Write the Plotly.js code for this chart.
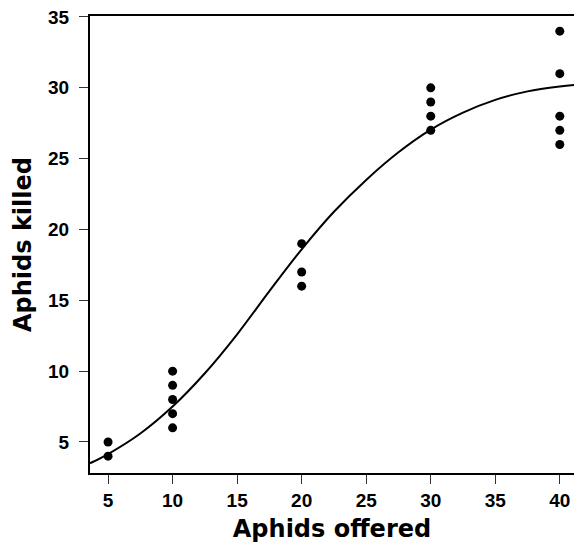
<!DOCTYPE html>
<html>
<head>
<meta charset="utf-8">
<script src="https://cdn.plot.ly/plotly-3.0.1.min.js"></script>
<style>html,body{margin:0;padding:0;background:#fff;}#chart{width:574px;height:549px;}</style>
</head>
<body>
<div id="chart"></div>
<script>
// Observed data: aphids offered vs aphids killed
var offered = [5, 5, 10, 10, 10, 10, 10, 20, 20, 20, 30, 30, 30, 30, 40, 40, 40, 40, 40];
var killed  = [5, 4, 10, 9, 8, 7, 6, 19, 17, 16, 30, 29, 28, 27, 34, 31, 28, 27, 26];

// Fitted curve, values
var curveX = [3.6, 5, 7.5, 10, 12.5, 15, 17.5, 20, 22.5, 25, 27.5, 30, 32.5, 35, 37.5, 40, 41.1];
var curveY = [3.5, 4.15, 5.6, 7.5, 9.85, 12.6, 15.65, 18.6, 21.25, 23.5, 25.45, 27.05, 28.25, 29.15, 29.75, 30.1, 30.2];

var xTicks = [5, 10, 15, 20, 25, 30, 35, 40];
var yTicks = [5, 10, 15, 20, 25, 30, 35];

var tickFont = {family: 'Arial, Liberation Sans, sans-serif', size: 19, color: '#000', weight: 700};
var titleFont = {family: 'DejaVu Sans, sans-serif', size: 24, color: '#000', weight: 700};

var traces = [
  {x: curveX, y: curveY, type: 'scatter', mode: 'lines', line: {color: '#000', width: 2, shape: 'spline', smoothing: 1}, hoverinfo: 'skip'},
  {x: offered, y: killed, type: 'scatter', mode: 'markers', marker: {color: '#000', size: 9}}
];

var layout = {
  width: 574, height: 549,
  margin: {l: 90, r: 0, t: 16, b: 76, pad: 0},
  paper_bgcolor: '#fff', plot_bgcolor: '#fff',
  showlegend: false,
  xaxis: {
    range: [3.6, 41.1], tickvals: xTicks, ticktext: xTicks.map(String),
    showgrid: false, zeroline: false, showline: true, linecolor: '#000', linewidth: 2, mirror: true,
    ticks: 'outside', ticklen: 9, tickwidth: 1, tickcolor: '#333',
    tickfont: tickFont, ticklabelstandoff: 0,
    title: {text: 'Aphids offered', font: titleFont, standoff: 10},
    automargin: false
  },
  yaxis: {
    range: [2.81, 35.07], tickvals: yTicks, ticktext: yTicks.map(String),
    showgrid: false, zeroline: false, showline: true, linecolor: '#000', linewidth: 2,
    ticks: 'outside', ticklen: 9, tickwidth: 1, tickcolor: '#333',
    tickfont: tickFont, ticklabelstandoff: 6,
    title: {text: 'Aphids killed', font: titleFont, standoff: 10},
    automargin: false
  }
};

Plotly.newPlot('chart', traces, layout, {displayModeBar: false, staticPlot: true});
</script>
</body>
</html>
